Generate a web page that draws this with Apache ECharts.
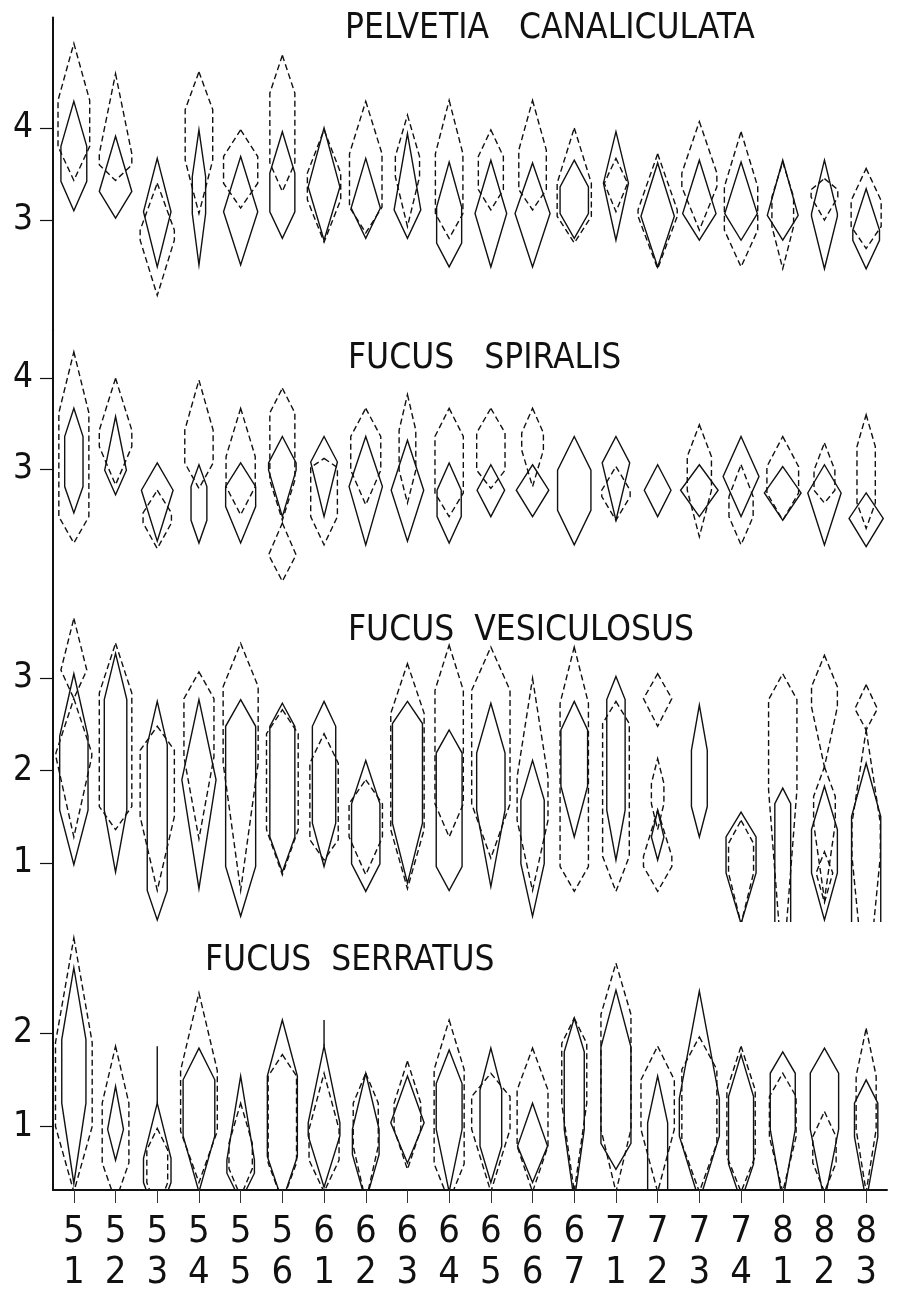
<!DOCTYPE html>
<html>
<head>
<meta charset="utf-8">
<script src="https://cdn.jsdelivr.net/npm/echarts@6/dist/echarts.min.js"></script>
<style>
html,body{margin:0;padding:0;background:#fff;}
#chart{width:911px;height:1298px;}
</style>
</head>
<body>
<div id="chart"></div>
<script>
// Categories: week / sample codes (two-line labels)
const categories = ['5\n1','5\n2','5\n3','5\n4','5\n5','5\n6','6\n1','6\n2','6\n3','6\n4','6\n5','6\n6','6\n7','7\n1','7\n2','7\n3','7\n4','8\n1','8\n2','8\n3'];

const panelTitles = ['PELVETIA   CANALICULATA', 'FUCUS   SPIRALIS', 'FUCUS  VESICULOSUS', 'FUCUS  SERRATUS'];
const yTicks1 = [3, 4];
const yTicks2 = [3, 4];
const yTicks3 = [1, 2, 3];
const yTicks4 = [1, 2];

// Each row: [categoryIndex, top, upperShoulder, lowerShoulder, bottom, halfWidth(fraction of band)]
const pelvetiaSolid = [
  [0,4.29,3.80,3.42,3.10,0.31],[1,3.91,3.31,3.31,3.02,0.39],[2,3.67,3.09,3.09,2.49,0.33],
  [3,3.98,3.47,3.07,2.51,0.16],[4,3.69,3.09,3.09,2.51,0.41],[5,3.96,3.51,3.09,2.80,0.30],
  [6,4.00,3.36,3.36,2.78,0.38],[7,3.67,3.13,3.13,2.80,0.35],[8,3.94,3.11,3.11,2.80,0.32],
  [9,3.63,3.14,2.75,2.49,0.30],[10,3.65,3.07,3.07,2.49,0.38],[11,3.62,3.07,3.07,2.49,0.42],
  [12,3.65,3.36,3.07,2.80,0.34],[13,3.96,3.40,3.40,2.78,0.30],[14,3.62,3.04,3.04,2.49,0.40],
  [15,3.65,3.07,3.07,2.78,0.40],[16,3.63,3.07,3.07,2.78,0.39],[17,3.65,3.05,3.05,2.78,0.37],
  [18,3.65,3.07,3.04,2.47,0.31],[19,3.34,2.89,2.78,2.47,0.32]
];
const pelvetiaDashed = [
  [0,4.92,4.30,3.80,3.43,0.38],[1,4.59,3.72,3.60,3.43,0.39],[2,3.40,2.89,2.78,2.18,0.41],
  [3,4.61,4.20,3.65,3.07,0.33],[4,3.98,3.69,3.40,3.13,0.41],[5,4.79,4.38,3.62,3.31,0.30],
  [6,3.98,3.51,3.22,2.76,0.40],[7,4.29,3.72,3.14,2.86,0.39],[8,4.14,3.69,3.47,2.93,0.29],
  [9,4.30,3.72,3.07,2.80,0.33],[10,3.98,3.69,3.33,3.11,0.30],[11,4.30,3.76,3.33,3.11,0.33],
  [12,4.00,3.40,3.04,2.75,0.41],[13,3.67,3.40,3.40,3.09,0.28],[14,3.72,3.11,3.04,2.47,0.47],
  [15,4.07,3.51,3.36,2.89,0.42],[16,3.96,3.36,2.89,2.49,0.40],[17,3.63,3.25,2.93,2.47,0.26],
  [18,3.45,3.33,3.25,3.00,0.32],[19,3.56,3.21,2.93,2.69,0.36]
];
const spiralisSolid = [
  [0,3.67,3.36,2.81,2.52,0.22],[1,3.58,2.99,2.99,2.72,0.26],[2,3.07,2.77,2.77,2.21,0.38],
  [3,3.05,2.81,2.44,2.19,0.19],[4,3.07,2.81,2.59,2.19,0.36],[5,3.36,3.07,2.99,2.48,0.33],
  [6,3.36,3.08,3.08,2.48,0.32],[7,3.36,2.81,2.81,2.17,0.40],[8,3.32,2.77,2.77,2.21,0.39],
  [9,3.07,2.77,2.48,2.19,0.29],[10,3.05,2.77,2.77,2.48,0.33],[11,3.05,2.77,2.77,2.48,0.39],
  [12,3.36,2.99,2.55,2.17,0.40],[13,3.36,3.07,3.07,2.44,0.33],[14,3.05,2.77,2.77,2.48,0.32],
  [15,3.05,2.77,2.77,2.48,0.45],[16,3.36,2.92,2.92,2.48,0.43],[17,3.03,2.74,2.74,2.44,0.44],
  [18,3.05,2.74,2.74,2.17,0.40],[19,2.74,2.46,2.46,2.15,0.41]
];
const spiralisDashed = [
  [0,4.29,3.62,2.48,2.19,0.36],[1,4.00,3.43,3.25,2.83,0.39],[2,2.77,2.52,2.41,2.13,0.34],
  [3,3.98,3.43,3.07,2.79,0.34],[4,3.67,3.14,2.81,2.50,0.35],[5,3.89,3.62,2.88,2.44,0.30],
  [5,2.41,2.06,2.06,1.77,0.33],[6,3.12,3.02,2.48,2.17,0.32],[7,3.67,3.36,2.99,2.61,0.36],
  [8,3.82,3.43,2.99,2.63,0.20],[9,3.67,3.36,2.74,2.48,0.34],[10,3.67,3.40,2.99,2.79,0.34],
  [11,3.67,3.40,3.21,2.81,0.26],[13,3.03,2.77,2.70,2.44,0.34],[15,3.49,3.14,2.77,2.26,0.29],
  [16,3.05,2.70,2.48,2.17,0.29],[17,3.36,3.03,2.74,2.44,0.38],[18,3.29,2.99,2.77,2.63,0.25],
  [19,3.60,3.25,2.63,2.35,0.22]
];
const vesiculosusSolid = [
  [0,3.05,2.37,1.57,0.98,0.34],[1,3.27,2.77,1.57,0.90,0.27],[2,2.75,2.28,0.70,0.38,0.24],
  [3,2.77,1.90,1.90,0.72,0.41],[4,2.77,2.48,0.96,0.42,0.36],[5,2.73,2.48,1.28,0.90,0.30],
  [6,2.75,2.48,1.43,0.96,0.28],[7,2.11,1.64,0.99,0.69,0.34],[8,2.75,2.51,1.43,0.78,0.36],
  [9,2.44,2.19,0.96,0.70,0.31],[10,2.73,2.19,1.57,0.74,0.34],[11,2.11,1.68,0.99,0.42,0.28],
  [12,2.75,2.44,1.83,1.28,0.32],[13,3.02,2.77,1.57,1.03,0.22],[14,1.57,1.28,1.28,1.03,0.15],
  [15,2.71,2.22,1.61,1.28,0.19],[16,1.55,1.28,0.89,0.34,0.36],[17,1.81,1.64,0.20,0.00,0.19],
  [18,1.83,1.36,0.89,0.38,0.31],[19,2.08,1.50,0.20,-0.50,0.35]
];
const vesiculosusDashed = [
  [0,3.65,3.09,3.09,2.78,0.31],[0,2.78,2.19,2.15,1.28,0.43],[1,3.38,2.84,1.61,1.36,0.39],
  [2,2.48,2.22,1.50,0.70,0.41],[3,3.07,2.78,2.15,1.26,0.36],[4,3.38,2.91,2.08,0.70,0.42],
  [5,2.66,2.40,1.36,0.87,0.38],[6,2.40,2.08,1.25,1.03,0.34],[7,1.90,1.64,1.28,0.87,0.40],
  [8,3.16,2.62,1.36,0.72,0.40],[9,3.36,2.87,1.64,1.28,0.34],[10,3.34,2.87,1.64,1.05,0.46],
  [11,3.00,1.93,1.46,0.70,0.37],[12,3.34,2.73,0.96,0.69,0.34],[13,2.75,2.51,1.07,0.69,0.32],
  [14,3.05,2.78,2.78,2.48,0.34],[14,2.13,1.86,1.64,1.36,0.15],[14,1.57,1.07,0.96,0.69,0.34],
  [16,1.46,1.21,0.89,0.34,0.30],[17,3.05,2.77,1.79,-0.20,0.34],[18,3.25,2.91,2.69,2.04,0.31],
  [18,2.04,1.72,1.43,0.60,0.26],[18,1.12,0.89,0.89,0.57,0.20],[19,2.93,2.67,2.67,2.44,0.27],
  [19,2.44,1.43,1.07,-0.50,0.34]
];
const serratusSolid = [
  [0,2.70,1.93,1.25,0.39,0.29],[1,1.43,0.97,0.97,0.64,0.19],[2,1.86,1.25,1.25,1.25,0.00],
  [2,1.25,0.66,0.40,0.00,0.33],[3,1.84,1.50,0.90,0.30,0.38],[4,1.54,0.64,0.50,0.20,0.33],
  [5,2.14,1.54,0.68,0.20,0.36],[6,2.14,1.86,1.86,1.86,0.00],[6,1.86,1.04,0.90,0.35,0.38],
  [7,1.57,0.97,0.70,0.20,0.32],[8,1.54,1.04,1.04,0.61,0.40],[9,1.82,1.46,0.97,0.30,0.31],
  [10,1.84,1.39,0.79,0.40,0.26],[11,1.25,0.79,0.79,0.40,0.36],[12,2.16,1.80,0.97,0.20,0.24],
  [13,2.46,1.85,0.82,0.54,0.36],[14,1.54,1.04,0.00,-0.50,0.24],[15,2.45,1.30,0.90,0.20,0.48],
  [16,1.77,1.32,0.60,0.20,0.30],[17,1.80,1.57,0.97,0.20,0.30],[18,1.84,1.57,0.97,0.20,0.34],
  [19,1.50,1.25,0.89,0.20,0.28]
];
const serratusDashed = [
  [0,3.02,1.90,1.00,0.30,0.44],[1,1.86,1.25,0.61,0.20,0.32],[2,0.98,0.75,0.40,0.10,0.25],
  [3,2.43,1.60,0.95,0.40,0.44],[4,1.25,0.82,0.55,0.25,0.28],[5,1.77,1.54,0.61,0.20,0.34],
  [6,1.57,0.97,0.64,0.30,0.36],[7,1.57,1.25,0.79,0.20,0.30],[8,1.70,1.25,0.97,0.54,0.32],
  [9,2.14,1.61,0.60,0.20,0.36],[10,1.57,1.32,0.97,0.30,0.46],[11,1.84,1.39,0.79,0.30,0.37],
  [12,2.16,1.89,1.25,0.30,0.30],[13,2.75,2.20,0.97,0.30,0.36],[14,1.86,1.50,0.97,0.30,0.40],
  [15,1.96,1.61,0.82,0.30,0.42],[16,1.86,1.39,0.68,0.30,0.34],[17,1.57,1.32,0.89,0.30,0.32],
  [18,1.16,0.89,0.61,0.30,0.28],[19,2.05,1.54,0.97,0.30,0.24]
];

const FONT = "'Liberation Sans Narrow','DejaVu Sans Condensed','Liberation Sans',sans-serif";
const INK = '#111';

// Layout (pixels) and axis ranges per panel
const panels = [
  {top:17.6, height:312.8, min:1.8,   max:5.2,   ticks:yTicks1, solid:pelvetiaSolid,    dashed:pelvetiaDashed,    title:{x:345,y:11}},
  {top:330.5,height:259.4, min:1.675, max:4.525, ticks:yTicks2, solid:spiralisSolid,    dashed:spiralisDashed,    title:{x:348,y:341}},
  {top:590,  height:332,   min:0.358, max:3.958, ticks:yTicks3, solid:vesiculosusSolid, dashed:vesiculosusDashed, title:{x:348,y:613}},
  {top:922,  height:268,   min:0.32,  max:3.19,  ticks:yTicks4, solid:serratusSolid,    dashed:serratusDashed,    title:{x:205,y:943}}
];

function kiteRenderer(dashed){
  return function(params, api){
    const c = api.value(0);
    const top = api.value(1), y1 = api.value(2), y2 = api.value(3), bot = api.value(4), hw = api.value(5);
    const w = api.size([1,0])[0] * hw;
    const pT = api.coord([c, top]);
    const p1 = api.coord([c, y1]);
    const p2 = api.coord([c, y2]);
    const pB = api.coord([c, bot]);
    const x = pT[0];
    return {
      type:'polygon',
      shape:{points:[[x,pT[1]],[x+w,p1[1]],[x+w,p2[1]],[x,pB[1]],[x-w,p2[1]],[x-w,p1[1]]]},
      style:{fill:'none', stroke:INK, lineWidth:1.4, lineDash: dashed ? [6,3.5] : null}
    };
  };
}

const grid = [], xAxis = [], yAxis = [], series = [], title = [];
panels.forEach((p, i) => {
  const last = i === panels.length - 1;
  grid.push({left:53, width:834, top:p.top, height:p.height});
  xAxis.push({
    type:'category', gridIndex:i, data:categories, boundaryGap:true,
    show:last,
    axisLine:{show:last, lineStyle:{color:INK, width:2}},
    axisTick:{show:last, alignWithLabel:true, length:13, lineStyle:{color:'#333', width:1}},
    axisLabel:{show:last, interval:0, margin:22, color:INK, fontFamily:FONT, fontSize:38, lineHeight:41},
    splitLine:{show:false}
  });
  yAxis.push({
    type:'value', gridIndex:i, min:p.min, max:p.max,
    axisLine:{show:true, lineStyle:{color:INK, width:2}},
    axisTick:{show:true, length:13, customValues:p.ticks, lineStyle:{color:INK, width:1.2}},
    axisLabel:{show:true, customValues:p.ticks, margin:20, color:INK, fontFamily:FONT, fontSize:35},
    splitLine:{show:false}
  });
  title.push({
    text:panelTitles[i], left:p.title.x, top:p.title.y, padding:0,
    textStyle:{fontFamily:FONT, fontSize:35, fontWeight:'normal', color:INK}
  });
  [['solid', false], ['dashed', true]].forEach(([key, dashed]) => {
    series.push({
      type:'custom', xAxisIndex:i, yAxisIndex:i, clip:true,
      renderItem:kiteRenderer(dashed),
      dimensions:['cat','top','y1','y2','bottom','hw'],
      encode:{x:0, y:[1,2,3,4]},
      data:p[key],
      silent:true
    });
  });
});

const chart = echarts.init(document.getElementById('chart'), null, {renderer:'canvas'});
chart.setOption({
  animation:false,
  backgroundColor:'#fff',
  title, grid, xAxis, yAxis, series
});
</script>
</body>
</html>
